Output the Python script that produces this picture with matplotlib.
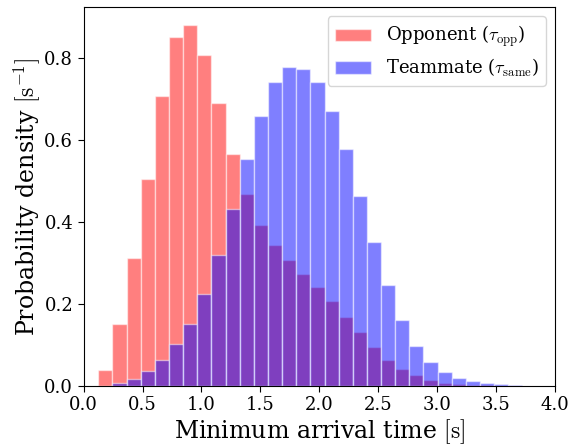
import numpy as np
import matplotlib
matplotlib.use("Agg")
import matplotlib.pyplot as plt

plt.rcParams["font.family"] = "DejaVu Serif"
plt.rcParams["mathtext.fontset"] = "cm"

# Common histogram bins (30 bins)
bin_start = 0.125
bin_width = 0.12
n_bins = 30
edges = bin_start + bin_width * np.arange(n_bins + 1)

# Density per bin, opponent arrival times
opp_density = [0.039, 0.151, 0.311, 0.506, 0.707, 0.851, 0.881, 0.809, 0.691, 0.567,
               0.468, 0.394, 0.344, 0.307, 0.274, 0.241, 0.206, 0.168, 0.131, 0.094,
               0.063, 0.041, 0.026, 0.0146, 0.0073, 0.0049, 0.0024, 0.0008, 0.0, 0.0]

# Density per bin, teammate arrival times
team_density = [0.0, 0.0065, 0.017, 0.0366, 0.064, 0.102, 0.150, 0.224, 0.319, 0.432,
                0.554, 0.659, 0.742, 0.780, 0.775, 0.743, 0.672, 0.578, 0.463, 0.352,
                0.246, 0.160, 0.0976, 0.057, 0.034, 0.0195, 0.0122, 0.0073, 0.0049, 0.0024]

x_ticks = [0.0, 0.5, 1.0, 1.5, 2.0, 2.5, 3.0, 3.5, 4.0]
y_ticks = [0.0, 0.2, 0.4, 0.6, 0.8]

fig = plt.figure(figsize=(5.69, 4.46), dpi=100)
ax = fig.add_axes([0.147, 0.135, 0.828, 0.849])

centers = 0.5 * (edges[:-1] + edges[1:])
ax.hist(centers, bins=edges, weights=opp_density, color="red", alpha=0.5,
        edgecolor="white", linewidth=1.0, label=r"Opponent ($\tau_{\rm opp}$)")
ax.hist(centers, bins=edges, weights=team_density, color="blue", alpha=0.5,
        edgecolor="white", linewidth=1.0, label=r"Teammate ($\tau_{\rm same}$)")

ax.set_xlim(0, 4)
ax.set_xticks(x_ticks)
ax.set_yticks(y_ticks)
ax.tick_params(labelsize=13, length=4)
ax.set_xlabel(r"Minimum arrival time $[\mathrm{s}]$", fontsize=17, labelpad=2)
ax.set_ylabel(r"Probability density $[\mathrm{s}^{-1}]$", fontsize=17, labelpad=2)
ax.legend(loc="upper right", fontsize=13, labelspacing=0.4)

fig.savefig("out.png", dpi=100)
